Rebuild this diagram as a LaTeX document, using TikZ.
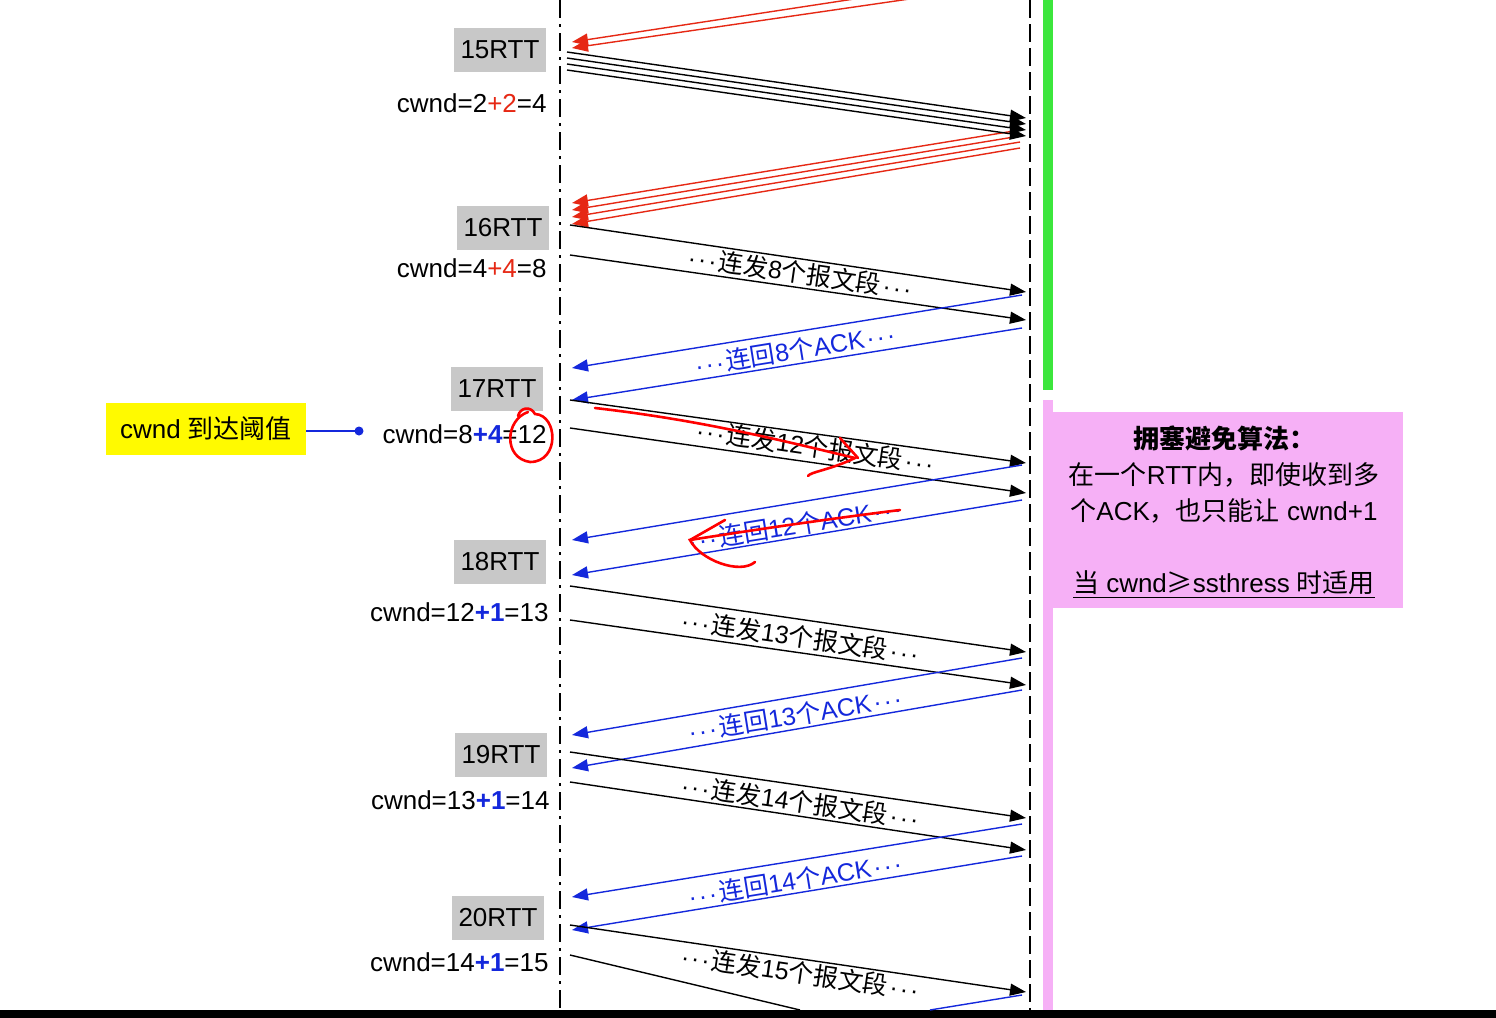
\documentclass[tikz,border=0pt]{standalone}
\usepackage{fontspec}
\setmainfont{Liberation Sans}
\newfontfamily\cjk{Noto Sans CJK SC}
\usetikzlibrary{arrows.meta}
\definecolor{rtt}{RGB}{200,200,200}
\definecolor{myblue}{RGB}{20,40,220}
\definecolor{myred}{RGB}{230,40,20}
\definecolor{mypink}{RGB}{246,176,246}
\definecolor{mygreen}{RGB}{60,230,60}
\definecolor{myyellow}{RGB}{255,250,0}
\newcommand{\dd}{\kern1pt·\kern1pt·\kern1pt·\kern1pt}
\tikzset{
  rttbox/.style={fill=rtt,minimum width=46pt,minimum height=22pt,inner sep=0pt,font=\fontsize{13}{15}\selectfont},
  cw/.style={anchor=east,inner sep=0pt,font=\fontsize{13}{15}\selectfont},
  seg/.style={black,line width=0.7pt,-{Triangle[length=8pt,width=6pt]}},
  ack/.style={myblue,line width=0.7pt,-{Triangle[length=8pt,width=6pt]}},
  rack/.style={myred,line width=0.7pt,-{Triangle[length=8pt,width=6pt]}},
  lbl/.style={font=\fontsize{12.5}{14}\selectfont,inner sep=0pt},
  hand/.style={red,line width=1.3pt,line cap=round}
}
\begin{document}
\begin{tikzpicture}[x=0.5pt,y=-0.5pt]
\useasboundingbox (0,0) rectangle (1496,1018);
\fill[white] (0,0) rectangle (1496,1018);
% bars
\fill[mygreen] (1043,0) rectangle (1053,390);
\fill[mypink] (1043,400) rectangle (1053,1010);
\fill[mypink] (1043,412) rectangle (1403,608);
\fill[black] (0,1010) rectangle (1496,1018);
% timelines
\draw[dash pattern=on 9pt off 3pt on 1.5pt off 3pt,line width=0.6pt] (560,0) -- (560,1010);
\draw[dash pattern=on 9pt off 3pt,line width=0.6pt] (1030,0) -- (1030,1010);
% RTT boxes
\node[rttbox] (r15) at (500,50) {15RTT};
\node[rttbox] (r16) at (503,228) {16RTT};
\node[rttbox] (r17) at (497,389) {17RTT};
\node[rttbox] (r18) at (500,562) {18RTT};
\node[rttbox] (r19) at (501,755) {19RTT};
\node[rttbox] (r20) at (498,918) {20RTT};
% cwnd labels
\node[cw] (c15) at (547,103) {cwnd=2\textcolor{myred}{+2}=4};
\node[cw] (c16) at (547,268) {cwnd=4\textcolor{myred}{+4}=8};
\node[cw] (c17) at (547,434) {cwnd=8\textcolor{myblue}{\textbf{+4}}=12};
\node[cw] (c18) at (549,612) {cwnd=12\textcolor{myblue}{\textbf{+1}}=13};
\node[cw] (c19) at (550,800) {cwnd=13\textcolor{myblue}{\textbf{+1}}=14};
\node[cw] (c20) at (549,962) {cwnd=14\textcolor{myblue}{\textbf{+1}}=15};
% yellow note
\node[fill=myyellow,minimum width=100pt,minimum height=26pt,inner sep=0pt,font=\fontsize{13}{15}\selectfont] (th) at (206,429) {cwnd {\cjk 到达阈值}};
\coordinate (dot) at (359,431);
\draw[myblue,line width=0.7pt] (th.east |- dot) -- (dot);
\fill[myblue] (dot) circle (4.5);
% 15RTT
\coordinate (t1) at (900,-8); \coordinate (t2) at (930,-4);
\coordinate (a1) at (572,42); \coordinate (a2) at (572,48);
\draw[rack] (t1) -- (a1);
\draw[rack] (t2) -- (a2);
\foreach \i in {0,1,2,3}{
  \coordinate (s\i) at (567,{52+6*\i});
  \coordinate (e\i) at (1026,{118+6*\i});
  \draw[seg] (s\i) -- (e\i);
  \coordinate (rs\i) at (1020,{130+6*\i});
  \coordinate (re\i) at (572,{203+7*\i});
  \draw[rack] (rs\i) -- (re\i);
}
% 16
\coordinate (b16a) at (570,225); \coordinate (b16b) at (1026,292);
\coordinate (b16c) at (570,255); \coordinate (b16d) at (1026,320);
\draw[seg] (b16a) -- (b16b); \draw[seg] (b16c) -- (b16d);
\node[lbl,rotate=-8.3] at (800,273) {\dd{\cjk 连发}8{\cjk 个报文段}\dd};
\coordinate (u16a) at (1022,295); \coordinate (u16b) at (572,368);
\coordinate (u16c) at (1022,328); \coordinate (u16d) at (572,400);
\draw[ack] (u16a) -- (u16b); \draw[ack] (u16c) -- (u16d);
\node[lbl,myblue,rotate=9.2] at (795,350) {\dd{\cjk 连回}8{\cjk 个}ACK\dd};
% 17
\coordinate (b17a) at (570,400); \coordinate (b17b) at (1026,463);
\coordinate (b17c) at (570,428); \coordinate (b17d) at (1026,493);
\draw[seg] (b17a) -- (b17b); \draw[seg] (b17c) -- (b17d);
\node[lbl,rotate=-8.3] at (815,447) {\dd{\cjk 连发}12{\cjk 个报文段}\dd};
\coordinate (u17a) at (1022,465); \coordinate (u17b) at (572,540);
\coordinate (u17c) at (1022,500); \coordinate (u17d) at (572,575);
\draw[ack] (u17a) -- (u17b); \draw[ack] (u17c) -- (u17d);
\node[lbl,myblue,rotate=9.2] at (795,525) {\dd{\cjk 连回}12{\cjk 个}ACK\dd};
% 18
\coordinate (b18a) at (570,586); \coordinate (b18b) at (1026,652);
\coordinate (b18c) at (570,620); \coordinate (b18d) at (1026,685);
\draw[seg] (b18a) -- (b18b); \draw[seg] (b18c) -- (b18d);
\node[lbl,rotate=-8.3] at (800,637) {\dd{\cjk 连发}13{\cjk 个报文段}\dd};
\coordinate (u18a) at (1022,658); \coordinate (u18b) at (572,735);
\coordinate (u18c) at (1022,690); \coordinate (u18d) at (572,768);
\draw[ack] (u18a) -- (u18b); \draw[ack] (u18c) -- (u18d);
\node[lbl,myblue,rotate=9.2] at (795,715) {\dd{\cjk 连回}13{\cjk 个}ACK\dd};
% 19
\coordinate (b19a) at (570,752); \coordinate (b19b) at (1026,818);
\coordinate (b19c) at (570,782); \coordinate (b19d) at (1026,850);
\draw[seg] (b19a) -- (b19b); \draw[seg] (b19c) -- (b19d);
\node[lbl,rotate=-8.3] at (800,802) {\dd{\cjk 连发}14{\cjk 个报文段}\dd};
\coordinate (u19a) at (1022,824); \coordinate (u19b) at (572,897);
\coordinate (u19c) at (1022,856); \coordinate (u19d) at (572,930);
\draw[ack] (u19a) -- (u19b); \draw[ack] (u19c) -- (u19d);
\node[lbl,myblue,rotate=9.2] at (795,880) {\dd{\cjk 连回}14{\cjk 个}ACK\dd};
% 20
\coordinate (b20a) at (570,925); \coordinate (b20b) at (1026,992);
\coordinate (b20c) at (570,955); \coordinate (b20d) at (800,1010);
\draw[seg] (b20a) -- (b20b); \draw[line width=0.7pt] (b20c) -- (b20d);
\node[lbl,rotate=-8.3] at (800,973) {\dd{\cjk 连发}15{\cjk 个报文段}\dd};
\coordinate (u20a) at (1022,995); \coordinate (u20b) at (930,1010);
\draw[myblue,line width=0.7pt] (u20a) -- (u20b);
% pink text
\node[align=center,font=\fontsize{13}{18}\selectfont,inner sep=0pt] (note) at (1224,512) {%
{\cjk\bfseries 拥塞避免算法：}\\ {\cjk 在一个}RTT{\cjk 内，即使收到多}\\ {\cjk 个}ACK{\cjk ，也只能让} cwnd+1\\[18pt] \underline{{\cjk 当} cwnd{\cjk ≥}ssthress {\cjk 时适用}}};
% hand-drawn annotations
\draw[hand] (528,412) .. controls (505,420) and (503,458) .. (530,462) .. controls (560,462) and (558,415) .. (535,414) .. controls (530,405) and (520,408) .. (518,416);
\draw[hand] (595,408) .. controls (700,420) and (780,440) .. (855,458) .. controls (830,470) and (810,472) .. (808,476);
\draw[hand] (840,438) -- (858,458);
\draw[hand] (900,510) .. controls (820,520) and (740,532) .. (690,540) .. controls (700,560) and (740,575) .. (755,562);
\draw[hand] (725,520) -- (690,540);
\end{tikzpicture}
\end{document}
